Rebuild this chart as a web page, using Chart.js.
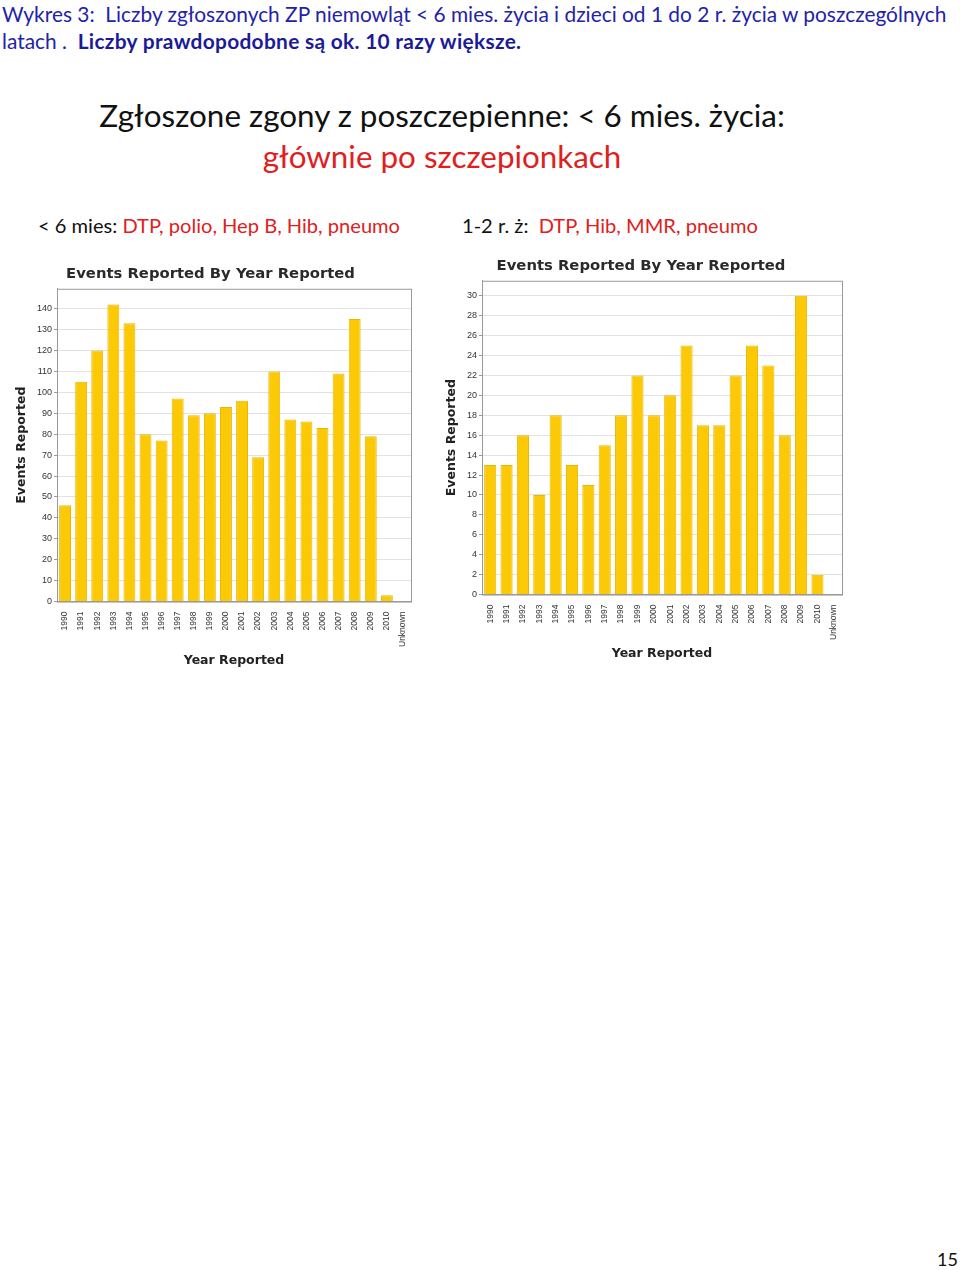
<!DOCTYPE html>
<html>
<head>
<meta charset="utf-8">
<script src="https://cdn.jsdelivr.net/npm/chart.js@4.4.1/dist/chart.umd.min.js"></script>
<style>
  body { margin: 0; background: #fff; width: 960px; height: 1270px; position: relative; overflow: hidden; font-family: Lato, "Open Sans", sans-serif; }
  .t { position: absolute; white-space: nowrap; }
  #head1 { left: 2px; top: 1px; font-size: 20.9px; color: #2323a8; }
  #head2 { left: 2px; top: 28px; font-size: 20.9px; color: #2323a8; }
  #head2 b { color: #1b1b98; letter-spacing: 0.3px; }
  #mid1 { left: 0; width: 884px; text-align: center; top: 96px; font-size: 31.4px; color: #111; }
  #mid2 { left: 0; width: 884px; text-align: center; top: 137px; font-size: 31.4px; color: #e0201c; }
  .sub { top: 213px; font-size: 20.1px; color: #111; }
  .red { color: #e0201c; }
  .box { position: absolute; }
  #num { right: 2px; top: 1248px; font-size: 18px; color: #111; }
</style>
</head>
<body>
<div class="t" id="head1">Wykres 3:&nbsp; Liczby zgłoszonych ZP niemowląt &lt; 6 mies. życia i dzieci od 1 do 2 r. życia w poszczególnych</div>
<div class="t" id="head2">latach .&nbsp; <b>Liczby prawdopodobne są ok. 10 razy większe.</b></div>
<div class="t" id="mid1">Zgłoszone zgony z poszczepienne: &lt; 6 mies. życia:</div>
<div class="t" id="mid2">głównie po szczepionkach</div>
<div class="t sub" style="left:38px">&lt; 6 mies: <span class="red">DTP, polio, Hep B, Hib, pneumo</span></div>
<div class="t sub" style="left:462px">1-2 r. ż:&nbsp; <span class="red">DTP, Hib, MMR, pneumo</span></div>

<div class="box" style="left:10px;top:258px;width:410px;height:414px"><canvas id="infants"></canvas></div>
<div class="box" style="left:440px;top:251px;width:410px;height:414px"><canvas id="toddlers"></canvas></div>

<div class="t" id="num">15</div>

<script>
var years = ['1990','1991','1992','1993','1994','1995','1996','1997','1998','1999','2000',
             '2001','2002','2003','2004','2005','2006','2007','2008','2009','2010','Unknown'];
// < 6 mies.
var under6m = [46, 105, 120, 142, 133, 80, 77, 97, 89, 90, 93, 96, 69, 110, 87, 86, 83, 109, 135, 79, 3, 0];
// 1-2 r. zycia
var age1to2 = [13, 13, 16, 10, 18, 13, 11, 15, 18, 22, 18, 20, 25, 17, 17, 22, 25, 23, 16, 30, 2, 0];

var chartTitle = 'Events Reported By Year Reported';
var yTitle = 'Events Reported';
var xTitle = 'Year Reported';

// ramka wokol obszaru wykresu
var frame = {
    id: 'frame',
    afterDraw: function (chart) {
        var a = chart.chartArea, ctx = chart.ctx;
        ctx.save();
        ctx.strokeStyle = '#9a9a9a';
        ctx.lineWidth = 1;
        ctx.strokeRect(a.left + 0.5, a.top + 0.5, a.right - a.left, a.bottom - a.top);
        ctx.restore();
    }
};

function makeChart(id, values, maxY, step, pad) {
    var ctx = document.getElementById(id).getContext('2d');
    return new Chart(ctx, {
        type: 'bar',
        data: {
            labels: years,
            datasets: [{
                data: values,
                backgroundColor: '#fbc906',
                borderColor: '#e9b700',
                borderWidth: 1,
                barPercentage: 0.74,
                categoryPercentage: 1
            }]
        },
        plugins: [frame],
        options: {
            responsive: true,
            maintainAspectRatio: false,
            animation: false,
            layout: { padding: pad },
            plugins: {
                legend: { display: false },
                tooltip: { enabled: false },
                title: {
                    display: true,
                    text: chartTitle,
                    color: '#2a2a2a',
                    font: { family: 'DejaVu Sans', size: 14.8, weight: 'bold' },
                    padding: { top: 0, bottom: 6 }
                }
            },
            scales: {
                x: {
                    grid: { display: false },
                    border: { color: '#9a9a9a' },
                    ticks: {
                        color: '#333',
                        font: { family: 'Liberation Sans', size: 8.5 },
                        minRotation: 90, maxRotation: 90,
                        autoSkip: false, padding: 2
                    },
                    title: {
                        display: true, text: xTitle, color: '#222',
                        font: { family: 'DejaVu Sans', size: 12.5, weight: 'bold' },
                        padding: { top: 4 }
                    }
                },
                y: {
                    min: 0, max: maxY,
                    border: { color: '#9a9a9a' },
                    grid: { color: '#e2e2e2', tickColor: '#9a9a9a', tickLength: 3, tickBorderDash: [] },
                    ticks: {
                        stepSize: step, includeBounds: false,
                        color: '#333',
                        font: { family: 'Liberation Sans', size: 9 },
                        padding: 2
                    },
                    title: {
                        display: true, text: yTitle, color: '#222',
                        font: { family: 'DejaVu Sans', size: 12.5, weight: 'bold' },
                        padding: { bottom: 6 }
                    }
                }
            }
        }
    });
}

Chart.defaults.scale.grid.borderDash = [2, 2];

makeChart('infants', under6m, 149.5, 10, { left: 0, right: 9, top: 7, bottom: 0 });
makeChart('toddlers', age1to2, 31.5, 2, { left: 0, right: 8, top: 6, bottom: 0 });
</script>
</body>
</html>
